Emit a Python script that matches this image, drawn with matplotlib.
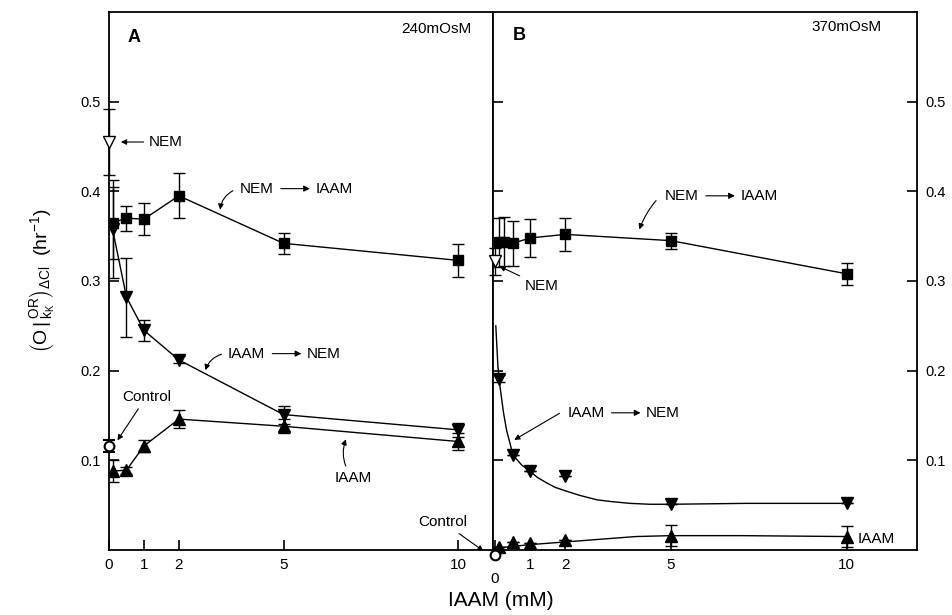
import numpy as np
import matplotlib.pyplot as plt
from matplotlib.text import OffsetFrom

plt.rcParams['font.family'] = ['Liberation Sans', 'DejaVu Sans']
plt.rcParams['mathtext.fontset'] = 'custom'
plt.rcParams['mathtext.rm'] = 'Liberation Sans'
plt.rcParams['mathtext.default'] = 'regular'

# Panel A - 240 mOsM
a_nem_iaam_x = [0.1, 0.5, 1, 2, 5, 10]
a_nem_iaam_y = [0.365, 0.370, 0.369, 0.395, 0.342, 0.323]
a_nem_iaam_err = [0.040, 0.014, 0.018, 0.025, 0.012, 0.018]

a_iaam_nem_x = [0.1, 0.5, 1, 2, 5, 10]
a_iaam_nem_y = [0.358, 0.282, 0.245, 0.212, 0.151, 0.134]
a_iaam_nem_err = [0.055, 0.044, 0.012, 0.004, 0.010, 0.008]

a_iaam_x = [0.1, 0.5, 1, 2, 5, 10]
a_iaam_y = [0.088, 0.089, 0.116, 0.146, 0.138, 0.121]
a_iaam_err = [0.012, 0.004, 0.007, 0.010, 0.008, 0.010]

a_control_y, a_control_err = 0.116, 0.007
a_nem_y, a_nem_err = 0.455, 0.037

# Panel B - 370 mOsM
b_nem_iaam_x = [0.1, 0.25, 0.5, 1, 2, 5, 10]
b_nem_iaam_y = [0.343, 0.344, 0.342, 0.348, 0.352, 0.345, 0.308]
b_nem_iaam_err = [0.027, 0.027, 0.025, 0.021, 0.018, 0.009, 0.012]

b_iaam_nem_x = [0.1, 0.5, 1, 2, 5, 10]
b_iaam_nem_y = [0.191, 0.106, 0.088, 0.082, 0.051, 0.052]
b_iaam_nem_fit_x = [0.02, 0.08, 0.14, 0.24, 0.33, 0.51, 0.75, 0.99, 1.2, 1.46, 1.7,
                    2.0, 2.4, 2.89, 3.3, 3.84, 4.4, 5.0, 7.14, 10.0]
b_iaam_nem_fit_y = [0.25, 0.205, 0.182, 0.153, 0.133, 0.106, 0.095, 0.088, 0.081,
                    0.075, 0.070, 0.066, 0.061, 0.056, 0.054, 0.052, 0.051, 0.051,
                    0.052, 0.052]

b_iaam_x = [0.1, 0.5, 1, 2, 5, 10]
b_iaam_y = [0.003, 0.009, 0.008, 0.011, 0.016, 0.015]
b_iaam_err = [0, 0, 0, 0, 0.012, 0.012]
b_iaam_fit_x = [0, 1, 2, 3, 4, 5, 7, 10]
b_iaam_fit_y = [0.002, 0.006, 0.009, 0.012, 0.015, 0.016, 0.016, 0.015]

b_control_y = -0.006
b_nem_y, b_nem_err = 0.322, 0.015

x_ticks = [0, 1, 2, 5, 10]
y_ticks = [0.1, 0.2, 0.3, 0.4, 0.5]

fig = plt.figure(figsize=(9.53, 6.15), dpi=100)
ax1 = fig.add_axes([0.1144, 0.1057, 0.4029, 0.8748])
ax2 = fig.add_axes([0.5173, 0.1057, 0.4449, 0.8748])

eb = dict(color='k', lw=1, elinewidth=1, capsize=4, capthick=1)
arr = dict(arrowstyle='-|>', color='k', lw=0.8, mutation_scale=8, shrinkA=2, shrinkB=1)


def strzalka_tekst(ax, x, y, a, b):
    # "a ---> b" etykieta
    t = ax.text(x, y, a, fontsize=11, va='center', ha='left')
    ax.annotate('', xy=(26, 0), xycoords=OffsetFrom(t, (1, 0.5), 'points'),
                xytext=(5, 0), textcoords=OffsetFrom(t, (1, 0.5), 'points'),
                arrowprops=dict(arrowstyle='-|>', color='k', lw=0.8, mutation_scale=9,
                                shrinkA=0, shrinkB=0))
    ax.annotate(b, xy=(1, 0.5), xycoords=t, xytext=(30, 0), textcoords='offset points',
                fontsize=11, va='center', ha='left')


# panel A
ax1.errorbar(a_nem_iaam_x, a_nem_iaam_y, yerr=a_nem_iaam_err, fmt='s-', ms=7, **eb)
ax1.errorbar(a_iaam_nem_x, a_iaam_nem_y, yerr=a_iaam_nem_err, fmt='v-', ms=8, **eb)
ax1.errorbar(a_iaam_x, a_iaam_y, yerr=a_iaam_err, fmt='^-', ms=8, **eb)
ax1.errorbar([0], [a_control_y], yerr=[a_control_err], fmt='o', ms=7, mfc='white',
             mew=1.5, clip_on=False, zorder=5, **eb)
ax1.errorbar([0], [a_nem_y], yerr=[a_nem_err], fmt='v', ms=9, mfc='white',
             mew=1, clip_on=False, zorder=5, **eb)

ax1.annotate('NEM', xy=(0.3, a_nem_y), xytext=(1.15, a_nem_y), fontsize=11,
             ha='left', va='center', arrowprops=arr)
strzalka_tekst(ax1, 3.75, 0.403, 'NEM', 'IAAM')
ax1.annotate('', xy=(3.18, 0.378), xytext=(3.62, 0.402),
             arrowprops=dict(connectionstyle='arc3,rad=0.3', **arr))
strzalka_tekst(ax1, 3.41, 0.219, 'IAAM', 'NEM')
ax1.annotate('', xy=(2.75, 0.199), xytext=(3.3, 0.219),
             arrowprops=dict(connectionstyle='arc3,rad=0.3', **arr))
ax1.annotate('Control', xy=(0.22, 0.121), xytext=(1.07, 0.171), fontsize=11,
             ha='center', va='center', arrowprops=arr)
ax1.annotate('IAAM', xy=(6.8, 0.125), xytext=(7.0, 0.080), fontsize=11,
             ha='center', va='center',
             arrowprops=dict(connectionstyle='arc3,rad=-0.3', **arr))
ax1.annotate('Control', xy=(-0.3, -0.002), xycoords=ax2.transData,
             xytext=(9.57, 0.031), textcoords='data', fontsize=11,
             ha='center', va='center', annotation_clip=False, arrowprops=arr)

ax1.text(0.049, 0.952, 'A', transform=ax1.transAxes, fontsize=13,
         fontweight='bold', ha='left', va='center')
ax1.text(0.945, 0.968, '240mOsM', transform=ax1.transAxes, fontsize=11,
         ha='right', va='center')

ax1.set_xlim(0, 11)
ax1.set_ylim(0, 0.6)
ax1.set_xticks(x_ticks)
ax1.set_yticks(y_ticks)
ax1.set_yticklabels(['0.1', '0.2', '0.3', '0.4', '0.5'])
ax1.tick_params(direction='in', length=7, width=1.2, labelsize=11, pad=6)
ax1.tick_params(axis='y', labelsize=10.5)
ax1.set_ylabel(r'$\left(O\,|^{\,OR}_{\,k_K}\right)_{\Delta Cl}$  (hr$^{-1}$)', fontsize=14)
ax1.yaxis.set_label_coords(-0.135, 0.5)

# panel B
ax2.errorbar(b_nem_iaam_x, b_nem_iaam_y, yerr=b_nem_iaam_err, fmt='s-', ms=7, **eb)
ax2.plot(b_iaam_nem_fit_x, b_iaam_nem_fit_y, color='k', lw=1)
ax2.errorbar(b_iaam_nem_x, b_iaam_nem_y, yerr=[0.004, 0, 0, 0, 0, 0], fmt='v', ms=8, **eb)
ax2.plot(b_iaam_fit_x, b_iaam_fit_y, color='k', lw=1)
ax2.errorbar(b_iaam_x, b_iaam_y, yerr=b_iaam_err, fmt='^', ms=8, clip_on=False, **eb)
ax2.plot([0], [b_control_y], 'o', ms=7, mfc='white', mec='k', mew=1.5,
         clip_on=False, zorder=5)
ax2.errorbar([0], [b_nem_y], yerr=[b_nem_err], fmt='v', ms=9, mfc='white',
             mew=1, clip_on=False, zorder=5, **eb)

ax2.annotate('NEM', xy=(0.09, 0.317), xytext=(0.85, 0.294), fontsize=11,
             ha='left', va='center', arrowprops=arr)
strzalka_tekst(ax2, 4.83, 0.395, 'NEM', 'IAAM')
ax2.annotate('', xy=(4.09, 0.356), xytext=(4.63, 0.392),
             arrowprops=dict(connectionstyle='arc3,rad=0.1', **arr))
strzalka_tekst(ax2, 2.05, 0.153, 'IAAM', 'NEM')
ax2.annotate('', xy=(0.51, 0.122), xytext=(1.9, 0.154), arrowprops=arr)
ax2.text(10.3, 0.012, 'IAAM', fontsize=11, ha='left', va='center')

ax2.text(0.047, 0.957, 'B', transform=ax2.transAxes, fontsize=13,
         fontweight='bold', ha='left', va='center')
ax2.text(0.917, 0.972, '370mOsM', transform=ax2.transAxes, fontsize=11,
         ha='right', va='center')

ax2.set_xlim(-0.06, 12)
ax2.set_ylim(0, 0.6)
ax2.set_xticks(x_ticks)
ax2.set_xticklabels(['', '1', '2', '5', '10'])
ax2.annotate('0', xy=(0, 0), xytext=(0, -16), textcoords='offset points',
             fontsize=11, ha='center', va='top', annotation_clip=False)
ax2.set_yticks(y_ticks)
ax2.set_yticklabels(['0.1', '0.2', '0.3', '0.4', '0.5'])
ax2.tick_params(direction='in', length=7, width=1.2, labelsize=11, pad=6,
                left=True, right=True, labelleft=False, labelright=True)
ax2.tick_params(axis='y', labelsize=10.5)

for ax in (ax1, ax2):
    for s in ax.spines.values():
        s.set_linewidth(1.3)

fig.text(0.526, 0.024, 'IAAM (mM)', fontsize=15, ha='center', va='center')

plt.savefig('out.png', dpi=100)
